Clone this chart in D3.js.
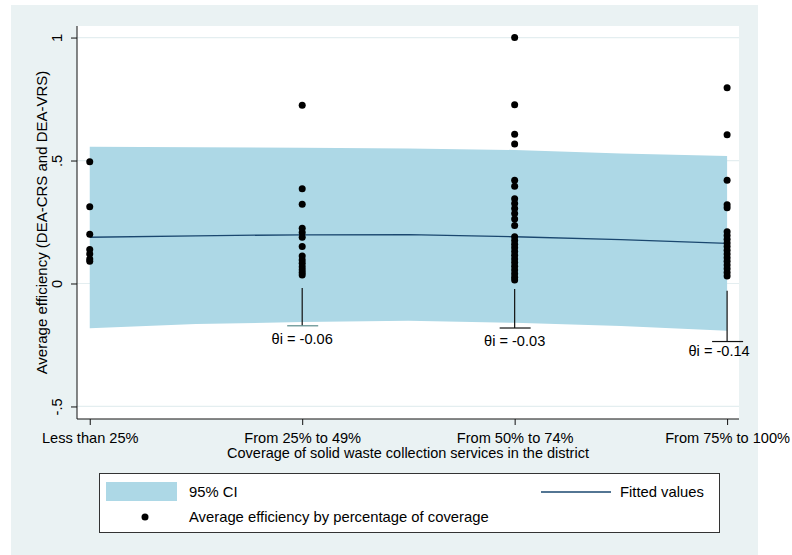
<!DOCTYPE html>
<html>
<head>
<meta charset="utf-8">
<script src="https://cdn.jsdelivr.net/npm/d3@7/dist/d3.min.js"></script>
<style>
  body { margin: 0; background: #ffffff; }
  text { font-family: "Liberation Sans", Arial, Helvetica, sans-serif; fill: #000; }
</style>
</head>
<body>
<svg id="chart" width="792" height="555"></svg>
<script>
// ---- data ----------------------------------------------------------------
const categories = ["Less than 25%", "From 25% to 49%", "From 50% to 74%", "From 75% to 100%"];
const yTicks = [-0.5, 0, 0.5, 1];
const yTickLabels = ["-.5", "0", ".5", "1"];

// average efficiency of each district, grouped by coverage class (1..4)
const effGroup1 = [0.495, 0.312, 0.200, 0.138, 0.120, 0.100, 0.090];
const effGroup2 = [0.725, 0.385, 0.322, 0.225, 0.207, 0.188, 0.150, 0.112, 0.096, 0.082, 0.068,
                   0.056, 0.045, 0.035];
const effGroup3 = [1.000, 0.727, 0.607, 0.567, 0.420, 0.395, 0.345, 0.325, 0.305, 0.285, 0.262, 0.236,
                   0.190, 0.175, 0.160, 0.145, 0.130, 0.115, 0.100, 0.085, 0.070, 0.055, 0.040, 0.025, 0.014];
const effGroup4 = [0.796, 0.605, 0.420, 0.320, 0.308, 0.210, 0.195, 0.180, 0.165, 0.150, 0.135, 0.120,
                   0.105, 0.090, 0.075, 0.060, 0.045, 0.030];

// fitted values and 95% confidence interval along the coverage axis
const fitX      = [1, 1.5, 2, 2.5, 3, 3.5, 4];
const fitValues = [0.188, 0.194, 0.198, 0.199, 0.190, 0.178, 0.163];
const ciLower   = [-0.182, -0.165, -0.157, -0.151, -0.160, -0.173, -0.192];
const ciUpper   = [0.556, 0.554, 0.552, 0.549, 0.543, 0.529, 0.518];

// group effects annotated under classes 2..4
const thetaGroups = [2, 3, 4];
const thetaLabels = ["θi = -0.06", "θi = -0.03", "θi = -0.14"];
const thetaTop    = [-0.018, -0.022, -0.030];
const thetaBottom = [-0.172, -0.181, -0.236];

// ---- drawing ---------------------------------------------------------------
const svg = d3.select("#chart");
const FONT = 14.6;
const plot = { left: 77, right: 739, top: 26, bottom: 419 };

const x = d3.scaleLinear().domain([0.94, 4.056]).range([plot.left, plot.right]);
const y = d3.scaleLinear().domain([-0.551, 1.047]).range([plot.bottom, plot.top]);

// graph background and plot region
svg.append("rect").attr("x", 11).attr("y", 5).attr("width", 747).attr("height", 550)
  .attr("fill", "#eaf2f3");
svg.append("rect").attr("x", plot.left).attr("y", plot.top)
  .attr("width", plot.right - plot.left).attr("height", plot.bottom - plot.top)
  .attr("fill", "#ffffff");

// horizontal grid
svg.append("g").selectAll("line").data(yTicks).join("line")
  .attr("x1", plot.left).attr("x2", plot.right)
  .attr("y1", d => y(d)).attr("y2", d => y(d))
  .attr("stroke", "#e4eef0").attr("stroke-width", 1.2);

// confidence band
const band = fitX.map((v, i) => ({ x: v, lo: ciLower[i], hi: ciUpper[i], fit: fitValues[i] }));
svg.append("path").datum(band)
  .attr("fill", "#add8e6")
  .attr("d", d3.area().x(d => x(d.x)).y0(d => y(d.lo)).y1(d => y(d.hi)));

// fitted line
svg.append("path").datum(band)
  .attr("fill", "none").attr("stroke", "#1a476f").attr("stroke-width", 1.3)
  .attr("d", d3.line().x(d => x(d.x)).y(d => y(d.fit)));

// observations
const groups = [effGroup1, effGroup2, effGroup3, effGroup4];
const points = groups.flatMap((vals, gi) => vals.map(v => ({ g: gi + 1, v })));
svg.append("g").selectAll("circle").data(points).join("circle")
  .attr("cx", d => x(d.g)).attr("cy", d => y(d.v)).attr("r", 3.5)
  .attr("fill", "#000");

// group-effect markers
const thetaDx = [0, 0, -8];
const thetaDy = [18, 18, 14.5];
const thetaCap = ["#5b8c8c", "#111", "#111"];
const th = svg.append("g");
thetaGroups.forEach((g, i) => {
  th.append("line").attr("x1", x(g)).attr("x2", x(g))
    .attr("y1", y(thetaTop[i])).attr("y2", y(thetaBottom[i]))
    .attr("stroke", "#111").attr("stroke-width", 1.2);
  th.append("line").attr("x1", x(g) - 15).attr("x2", x(g) + 16)
    .attr("y1", y(thetaBottom[i])).attr("y2", y(thetaBottom[i]))
    .attr("stroke", thetaCap[i]).attr("stroke-width", 1.2);
  th.append("text").attr("x", x(g) + thetaDx[i]).attr("y", y(thetaBottom[i]) + thetaDy[i])
    .attr("text-anchor", "middle").style("font-size", FONT + "px")
    .text(thetaLabels[i]);
});

// y axis
const yAxis = svg.append("g").attr("transform", `translate(${plot.left},0)`)
  .call(d3.axisLeft(y).tickValues(yTicks).tickFormat((d, i) => yTickLabels[i])
    .tickSize(6).tickSizeOuter(0));
yAxis.select(".domain").attr("d", `M0,${plot.top}V${plot.bottom}`).attr("stroke", "#111");
yAxis.selectAll(".tick line").attr("stroke", "#111");
yAxis.selectAll(".tick text")
  .attr("x", null).attr("dy", null).attr("y", null)
  .attr("text-anchor", "middle")
  .attr("transform", "translate(-15,0) rotate(-90)")
  .style("font-size", FONT + "px").attr("font-family", null).attr("fill", "#000");

// x axis
const xAxis = svg.append("g").attr("transform", `translate(0,${plot.bottom})`)
  .call(d3.axisBottom(x).tickValues([1, 2, 3, 4]).tickFormat((d, i) => categories[i])
    .tickSize(6).tickSizeOuter(0));
xAxis.select(".domain").attr("d", `M${plot.left},0H${plot.right}`).attr("stroke", "#111");
xAxis.selectAll(".tick line").attr("stroke", "#111");
xAxis.selectAll(".tick text")
  .attr("y", 24).attr("dy", null)
  .style("font-size", FONT + "px").attr("font-family", null).attr("fill", "#000");
svg.selectAll(".tick text").style("font-family", "\"Liberation Sans\", Arial, sans-serif");

// axis titles
svg.append("text").attr("x", (plot.left + plot.right) / 2).attr("y", 458)
  .attr("text-anchor", "middle").style("font-size", "14.5px")
  .text("Coverage of solid waste collection services in the district");
svg.append("text")
  .attr("transform", `translate(46.5,${(plot.top + plot.bottom) / 2}) rotate(-90)`)
  .attr("text-anchor", "middle").style("font-size", "15px")
  .text("Average efficiency (DEA-CRS and DEA-VRS)");

// legend
const lg = svg.append("g");
lg.append("rect").attr("x", 99.5).attr("y", 473.5).attr("width", 620).attr("height", 59)
  .attr("fill", "#ffffff").attr("stroke", "#333").attr("stroke-width", 1);
lg.append("rect").attr("x", 106).attr("y", 482).attr("width", 71).attr("height", 19)
  .attr("fill", "#add8e6");
lg.append("text").attr("x", 189).attr("y", 497).style("font-size", "14.8px").text("95% CI");
lg.append("line").attr("x1", 541).attr("x2", 611).attr("y1", 492).attr("y2", 492)
  .attr("stroke", "#1a476f").attr("stroke-width", 1.3);
lg.append("text").attr("x", 620).attr("y", 497).style("font-size", "14.8px").text("Fitted values");
lg.append("circle").attr("cx", 145).attr("cy", 517).attr("r", 3.5).attr("fill", "#000");
lg.append("text").attr("x", 189).attr("y", 522).style("font-size", "14.8px")
  .text("Average efficiency by percentage of coverage");
</script>
</body>
</html>
